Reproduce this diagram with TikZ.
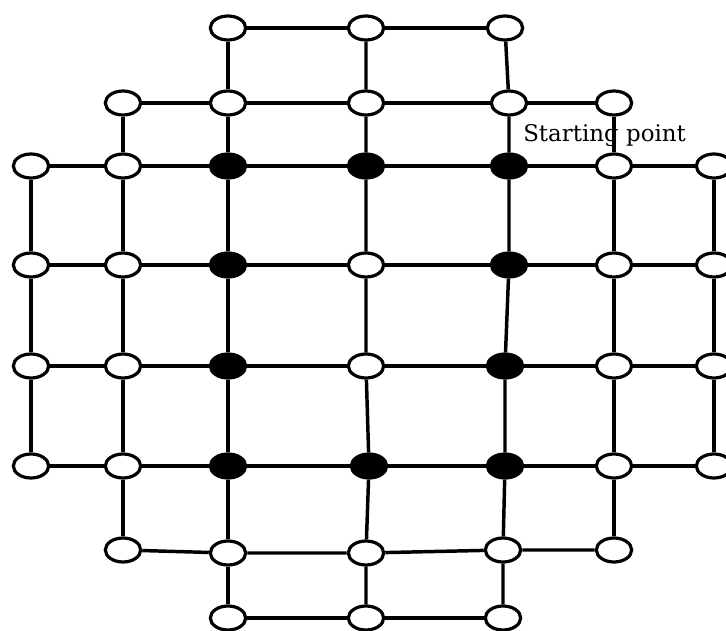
\documentclass[tikz,border=0pt]{standalone}
\usepackage{fontspec}
\usetikzlibrary{shapes.geometric}
\newfontfamily\lblfont{DejaVu Serif}

\begin{document}
\begin{tikzpicture}[
  x=0.75pt, y=-0.75pt,
  vtx/.style={draw=black, ellipse, line width=2.4pt, minimum width=26.5pt,
              minimum height=18pt, inner sep=0pt, fill=white},
  full/.style={vtx, fill=black},
  ln/.style={line width=2.6pt, black},
  lbl/.style={font=\lblfont\fontsize{17.2}{19}\selectfont, text=black, inner sep=0pt}
]
  \useasboundingbox (0,0) rectangle (726,631);

  % Row a
  \node[vtx] (a2) at (228,28) {};
  \node[vtx] (a3) at (366,28) {};
  \node[vtx] (a4) at (505,28) {};

  % Row b
  \node[vtx] (b1) at (123,103) {};
  \node[vtx] (b2) at (228,103) {};
  \node[vtx] (b3) at (366,103) {};
  \node[vtx] (b4) at (509,103) {};
  \node[vtx] (b5) at (614,103) {};

  % Row c
  \node[vtx]  (c0) at (31,166) {};
  \node[vtx]  (c1) at (123,166) {};
  \node[full] (c2) at (228,166) {};
  \node[full] (c3) at (366,166) {};
  \node[full] (c4) at (509,166) {};
  \node[vtx]  (c5) at (614,166) {};
  \node[vtx]  (c6) at (714,166) {};

  % Row d
  \node[vtx]  (d0) at (31,265) {};
  \node[vtx]  (d1) at (123,265) {};
  \node[full] (d2) at (228,265) {};
  \node[vtx]  (d3) at (366,265) {};
  \node[full] (d4) at (509,265) {};
  \node[vtx]  (d5) at (614,265) {};
  \node[vtx]  (d6) at (714,265) {};

  % Row e
  \node[vtx]  (e0) at (31,366) {};
  \node[vtx]  (e1) at (123,366) {};
  \node[full] (e2) at (228,366) {};
  \node[vtx]  (e3) at (366,366) {};
  \node[full] (e4) at (505,366) {};
  \node[vtx]  (e5) at (614,366) {};
  \node[vtx]  (e6) at (714,366) {};

  % Row f
  \node[vtx]  (f0) at (31,466) {};
  \node[vtx]  (f1) at (123,466) {};
  \node[full] (f2) at (228,466) {};
  \node[full] (f3) at (369,466) {};
  \node[full] (f4) at (505,466) {};
  \node[vtx]  (f5) at (614,466) {};
  \node[vtx]  (f6) at (714,466) {};

  % Row g
  \node[vtx] (g1) at (123,550) {};
  \node[vtx] (g2) at (228,553) {};
  \node[vtx] (g3) at (366,553) {};
  \node[vtx] (g4) at (503,550) {};
  \node[vtx] (g5) at (614,550) {};

  % Row h
  \node[vtx] (h2) at (228,618) {};
  \node[vtx] (h3) at (366,618) {};
  \node[vtx] (h4) at (503,618) {};

  % Horizontal links
  \draw[ln] (a2) -- (a3) -- (a4);
  \draw[ln] (b1) -- (b2) -- (b3) -- (b4) -- (b5);
  \draw[ln] (c0) -- (c1) -- (c2) -- (c3) -- (c4) -- (c5) -- (c6);
  \draw[ln] (d0) -- (d1) -- (d2) -- (d3) -- (d4) -- (d5) -- (d6);
  \draw[ln] (e0) -- (e1) -- (e2) -- (e3) -- (e4) -- (e5) -- (e6);
  \draw[ln] (f0) -- (f1) -- (f2) -- (f3) -- (f4) -- (f5) -- (f6);
  \draw[ln] (g1) -- (g2) -- (g3) -- (g4) -- (g5);
  \draw[ln] (h2) -- (h3) -- (h4);

  % Vertical links
  \draw[ln] (c0) -- (d0) -- (e0) -- (f0);
  \draw[ln] (b1) -- (c1) -- (d1) -- (e1) -- (f1) -- (g1);
  \draw[ln] (a2) -- (b2) -- (c2) -- (d2) -- (e2) -- (f2) -- (g2) -- (h2);
  \draw[ln] (a3) -- (b3) -- (c3) -- (d3) -- (e3) -- (f3) -- (g3) -- (h3);
  \draw[ln] (a4) -- (b4) -- (c4) -- (d4) -- (e4) -- (f4) -- (g4) -- (h4);
  \draw[ln] (b5) -- (c5) -- (d5) -- (e5) -- (f5) -- (g5);
  \draw[ln] (c6) -- (d6) -- (e6) -- (f6);

  % Label
  \node[lbl, anchor=base west] (start) at (523,142) {Starting point};

\end{tikzpicture}
\end{document}
